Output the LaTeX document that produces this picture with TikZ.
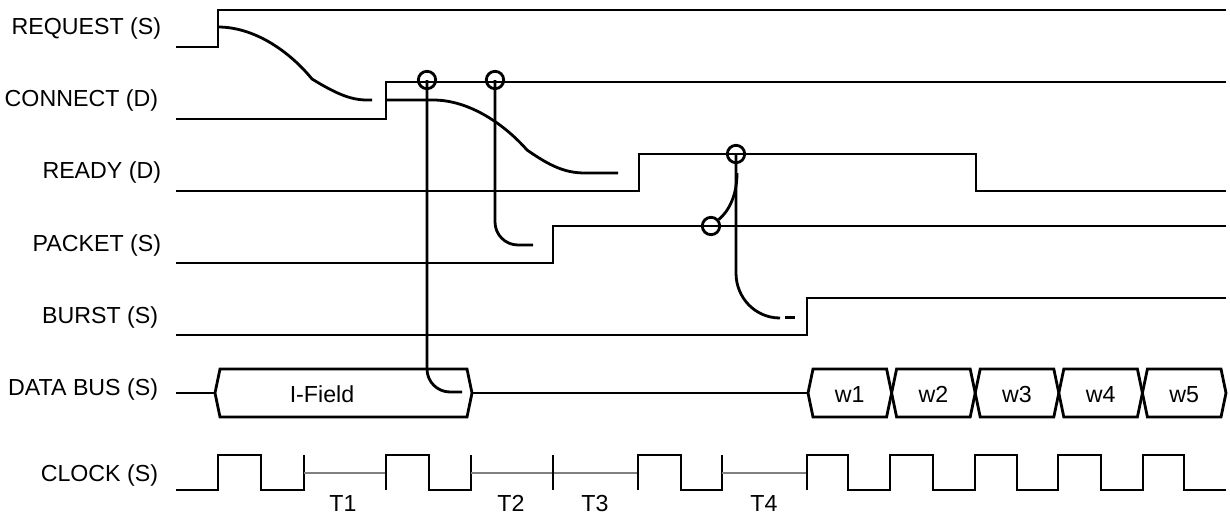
\documentclass[tikz,border=0pt]{standalone}
\usepackage{fontspec}
\setmainfont{Liberation Sans}
\definecolor{tgray}{RGB}{128,128,128}
\begin{document}
\begin{tikzpicture}[x=0.5pt,y=-0.5pt,
  sig/.style={line width=1.4pt, line join=miter},
  gline/.style={line width=1pt, draw=tgray},
  lbl/.style={anchor=base east, inner sep=0pt, font=\fontsize{11.6}{13}\selectfont},
  txt/.style={anchor=base, inner sep=0pt, font=\fontsize{11.6}{13}\selectfont},
  ring/.style={draw, circle, line width=1.4pt, minimum size=8.7pt, inner sep=0pt}]
\useasboundingbox (0,0) rectangle (1230,514);

% labels
\node[lbl] (lreq) at (161.5,34.3) {REQUEST (S)};
\node[lbl] (lcon) at (158.5,106.7) {CONNECT (D)};
\node[lbl] (lrdy) at (161.5,178.3) {READY (D)};
\node[lbl] (lpkt) at (161.5,251.7) {PACKET (S)};
\node[lbl] (lbst) at (158.5,323.3) {BURST (S)};
\node[lbl] (ldat) at (158.5,395) {DATA BUS (S)};
\node[lbl] (lclk) at (158.5,481.7) {CLOCK (S)};

% signals
\draw[sig] (176,47) -- (218,47) -- (218,10) -- (1226,10);
\draw[sig] (176,119) -- (386,119) -- (386,82) -- (1226,82);
\draw[sig] (176,191) -- (639,191) -- (639,154) -- (976,154) -- (976,191) -- (1226,191);
\draw[sig] (176,263) -- (553,263) -- (553,226) -- (1226,226);
\draw[sig] (176,335) -- (807,335) -- (807,298) -- (1226,298);

% data bus
\draw[sig] (176,393) -- (215,393);
\draw[sig] (215,393) -- (220,369) -- (467,369) -- (472,393) -- (467,417) -- (220,417) -- cycle;
\node[txt] (ifield) at (322,402) {I-Field};
\draw[sig] (472,393) -- (808,393);
\foreach \L/\w in {808/w1, 891.6/w2, 975.2/w3, 1058.8/w4, 1142.4/w5}{
  \draw[sig] (\L,393) -- (\L+5,369) -- (\L+78.6,369) -- (\L+83.6,393) -- (\L+78.6,417) -- (\L+5,417) -- cycle;
  \node[txt] (\w) at (\L+41.8,402) {\w};
}

% clock
\draw[sig] (176,490) -- (218,490) -- (218,455) -- (261,455) -- (261,490) -- (304,490) -- (304,455);
\draw[gline] (304,472.5) -- (386,472.5);
\draw[sig] (386,490) -- (386,455) -- (429,455) -- (429,490) -- (471,490) -- (471,455);
\draw[gline] (471,472.5) -- (638,472.5);
\draw[sig] (553,455) -- (553,490);
\draw[sig] (638,490) -- (638,455) -- (681,455) -- (681,490) -- (722,490) -- (722,455);
\draw[gline] (722,472.5) -- (807,472.5);
\draw[sig] (807,490) -- (807,455) -- (848,455) -- (848,490) -- (890,490) -- (890,455) -- (933,455) -- (933,490)
  -- (975,490) -- (975,455) -- (1017,455) -- (1017,490) -- (1058,490) -- (1058,455) -- (1101,455) -- (1101,490)
  -- (1143,490) -- (1143,455) -- (1184,455) -- (1184,490) -- (1226,490);
\node[txt] (t1) at (343,511) {T1};
\node[txt] (t2) at (511,511) {T2};
\node[txt] (t3) at (595,511) {T3};
\node[txt] (t4) at (764,511) {T4};

% causal curves
\draw[sig] (218,27) .. controls (255,27) and (290,52) .. (312,79)
  .. controls (335,93) and (350,100) .. (367,100) -- (372,100);
\draw[sig] (386,100) -- (433,100) .. controls (470,100) and (505,125) .. (527,150)
  .. controls (550,166) and (565,173) .. (585,173) -- (618,173);

\node[ring] (c1) at (427,80) {};
\node[ring] (c2) at (495,80) {};
\node[ring] (c3) at (736,154) {};
\node[ring] (c4) at (711,226) {};

\draw[sig] (c1.center) -- (427,369) .. controls (427,381.7) and (437.3,392) .. (450,392) -- (462,392);
\draw[sig] (c2.center) -- (495,222) .. controls (495,234.7) and (505.3,245) .. (518,245) -- (533,245);
\draw[sig] (c3.center) -- (736,273) .. controls (736,297.8) and (755.2,318) .. (780,318);
\draw[sig] (785,317.5) -- (795,317.5);
\draw[sig] (737,173) .. controls (737,195) and (729,211) .. (c4);
\end{tikzpicture}
\end{document}
